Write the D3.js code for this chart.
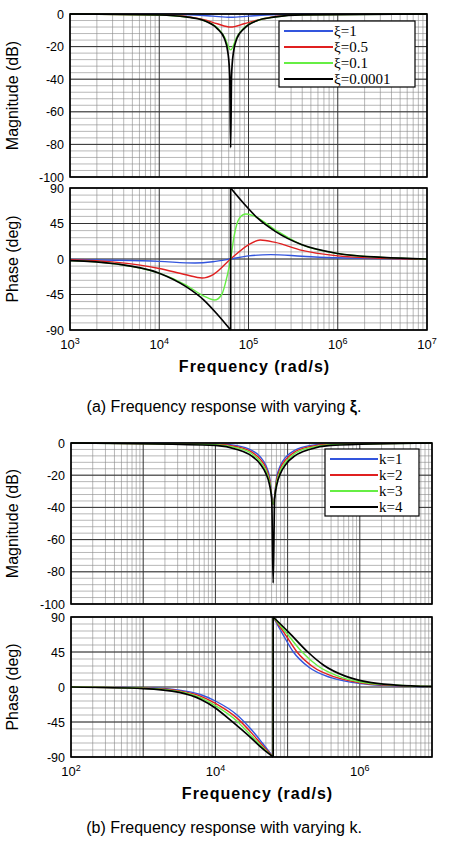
<!DOCTYPE html>
<html><head><meta charset="utf-8">
<script src="https://cdn.jsdelivr.net/npm/d3@7"></script>
<style>body{margin:0;background:#fff}</style>
</head><body><svg id="c" width="474" height="841"></svg>
<script>
// ---- data (log10 of rad/s, value) ----
var colors = ["#3355dd", "#e02020", "#66ee44", "#000000"];
var legendA = ["\u03be=1", "\u03be=0.5", "\u03be=0.1", "\u03be=0.0001"];
var legendB = ["k=1", "k=2", "k=3", "k=4"];
var magTicks = [0, -20, -40, -60, -80, -100];
var phaseTicks = [90, 45, 0, -45, -90];

var magA = [
  [[3,0],[4,-0.1],[4.4,-0.6],[4.6,-1.3],[4.8,-2],[5,-1.3],[5.2,-0.6],[5.6,-0.1],[7,0]],
  [[3,0],[4,-0.5],[4.3,-1.5],[4.5,-3.5],[4.65,-6],[4.8,-8],[4.95,-6],[5.1,-3.8],[5.3,-1.5],[5.6,-0.4],[7,0]],
  [[3,0],[4,-0.6],[4.3,-1.8],[4.5,-4],[4.65,-8.5],[4.73,-14],[4.8,-22],[4.87,-14],[4.95,-8.5],[5.1,-4],[5.3,-1.8],[5.6,-0.5],[7,0]],
  [[3,0],[4,-0.6],[4.3,-1.8],[4.5,-4],[4.65,-9],[4.73,-15],[4.77,-24],[4.79,-38],[4.8,-82],[4.81,-38],[4.83,-24],[4.87,-15],[4.95,-9],[5.1,-4],[5.3,-1.8],[5.6,-0.5],[7,0]]
];
var phaseA = [
  [[3,-0.5],[3.5,-1.5],[4,-3],[4.4,-5],[4.6,-3.5],[4.8,0],[5,4],[5.25,5.5],[5.6,3.5],[6,1.5],[7,0]],
  [[3,-1],[3.5,-4],[4,-12],[4.3,-20],[4.48,-24],[4.6,-20],[4.8,0],[5,18],[5.13,24],[5.3,21],[5.6,11],[6,4],[6.5,1],[7,0]],
  [[3,-2],[3.5,-6],[4,-18],[4.3,-33],[4.5,-47],[4.62,-52],[4.7,-45],[4.76,-22],[4.8,0],[4.84,30],[4.9,52],[4.97,57],[5.05,55],[5.3,37],[5.6,18],[6,7],[6.5,2],[7,0]],
  [[3,-2],[3.5,-6],[4,-18],[4.3,-35],[4.5,-52],[4.65,-70],[4.8,-90],[4.8,90],[4.95,70],[5.1,52],[5.3,35],[5.6,18],[6,7],[6.5,2],[7,0]]
];
var magB = [
  [[2,0],[4,-0.4],[4.3,-1.6],[4.5,-4.5],[4.62,-8.5],[4.7,-14],[4.75,-21],[4.8,-38],[4.85,-21],[4.9,-14],[4.98,-8.5],[5.1,-4.5],[5.3,-1.6],[5.6,-0.4],[7,0]],
  [[2,0],[4,-0.7],[4.3,-2.3],[4.5,-5.5],[4.62,-10],[4.7,-15.5],[4.75,-22.5],[4.8,-38],[4.85,-22.5],[4.9,-15.5],[4.98,-10],[5.1,-5.5],[5.3,-2.3],[5.6,-0.7],[7,0]],
  [[2,0],[4,-1],[4.3,-3],[4.5,-6.5],[4.62,-11.5],[4.7,-17],[4.75,-24],[4.8,-38],[4.85,-24],[4.9,-17],[4.98,-11.5],[5.1,-6.5],[5.3,-3],[5.6,-1],[7,0]],
  [[2,0],[4,-1.5],[4.3,-4],[4.5,-8],[4.62,-13],[4.7,-19],[4.75,-26],[4.78,-35],[4.8,-87],[4.82,-35],[4.85,-26],[4.9,-19],[4.98,-13],[5.1,-8],[5.3,-4],[5.6,-1.5],[7,0]]
];
var phaseB = [
  [[2,0],[3,-1],[3.5,-4],[3.8,-10],[4,-18],[4.3,-36],[4.5,-55],[4.65,-72],[4.8,-90],[4.8,90],[4.92,70],[5.08,45],[5.3,25],[5.6,12],[6,4.5],[6.5,1.5],[7,0.5]],
  [[2,0],[3,-1.3],[3.5,-5],[3.8,-12],[4,-21],[4.3,-40],[4.5,-59],[4.65,-75],[4.8,-90],[4.8,90],[4.95,70],[5.13,45],[5.35,26],[5.65,13],[6,5.5],[6.5,1.8],[7,0.5]],
  [[2,0],[3,-1.6],[3.5,-6],[3.8,-14],[4,-24],[4.3,-44],[4.5,-63],[4.65,-77],[4.8,-90],[4.8,90],[4.98,70],[5.2,45],[5.42,27],[5.7,14],[6,6.5],[6.5,2.2],[7,0.6]],
  [[2,0],[3,-2],[3.5,-7],[3.8,-16],[4,-27],[4.2,-42],[4.5,-66],[4.65,-79],[4.8,-90],[4.8,90],[5.02,70],[5.28,45],[5.5,28],[5.8,14],[6.1,6.5],[6.5,2.5],[7,0.7]]
];

var svg = d3.select("#c");
var tickFont = "Liberation Sans, Arial, sans-serif";

function grid(g, x, y, d0, d1, yMinStep, yMin, yMax) {
  var minors = [];
  for (var d = d0; d < d1; d++) for (var m = 2; m < 10; m++) minors.push(m * Math.pow(10, d));
  g.selectAll(".vm").data(minors).enter().append("line")
    .attr("x1", function (v) { return x(v); }).attr("x2", function (v) { return x(v); })
    .attr("y1", y.range()[0]).attr("y2", y.range()[1]).attr("stroke", "#888").attr("stroke-width", 0.6);
  var ys = d3.range(yMin, yMax + 0.01, yMinStep);
  g.selectAll(".hm").data(ys).enter().append("line")
    .attr("x1", x.range()[0]).attr("x2", x.range()[1])
    .attr("y1", function (v) { return y(v); }).attr("y2", function (v) { return y(v); })
    .attr("stroke", "#888").attr("stroke-width", 0.6);
}

function majors(g, x, y, decades, yt) {
  g.selectAll(".vM").data(decades).enter().append("line")
    .attr("x1", function (v) { return x(Math.pow(10, v)); }).attr("x2", function (v) { return x(Math.pow(10, v)); })
    .attr("y1", y.range()[0]).attr("y2", y.range()[1]).attr("stroke", "#333").attr("stroke-width", 1);
  g.selectAll(".hM").data(yt).enter().append("line")
    .attr("x1", x.range()[0]).attr("x2", x.range()[1])
    .attr("y1", function (v) { return y(v); }).attr("y2", function (v) { return y(v); })
    .attr("stroke", "#333").attr("stroke-width", 1);
}

function plot(g, x, y, series) {
  var line = d3.line().x(function (p) { return x(Math.pow(10, p[0])); }).y(function (p) { return y(p[1]); })
    .curve(d3.curveMonotoneX);
  series.forEach(function (s, i) {
    // split at phase jump
    var parts = [[]];
    s.forEach(function (p, j) {
      if (j > 0 && p[0] === s[j - 1][0]) { parts.push([]); }
      parts[parts.length - 1].push(p);
    });
    parts.forEach(function (pt) {
      g.append("path").attr("d", line(pt)).attr("fill", "none")
        .attr("stroke", colors[i]).attr("stroke-width", i === 3 ? 1.7 : 1.4);
    });
    // vertical jump
    if (parts.length > 1) {
      var a = parts[0][parts[0].length - 1];
      g.append("line").attr("x1", x(Math.pow(10, a[0]))).attr("x2", x(Math.pow(10, a[0])))
        .attr("y1", y(-90)).attr("y2", y(90)).attr("stroke", colors[i]).attr("stroke-width", i === 3 ? 1.7 : 1.4);
    }
  });
}

function frame(g, x, y) {
  g.append("rect").attr("x", x.range()[0]).attr("y", y.range()[1])
    .attr("width", x.range()[1] - x.range()[0]).attr("height", y.range()[0] - y.range()[1])
    .attr("fill", "none").attr("stroke", "#000").attr("stroke-width", 1.6);
}

function yLabels(g, x, y, ticks, label, cy) {
  g.selectAll(".yl").data(ticks).enter().append("text")
    .attr("x", x.range()[0] - 6).attr("y", function (v) { return y(v) + 4.5; })
    .attr("text-anchor", "end").attr("font-family", tickFont).attr("font-size", 12.5)
    .text(function (v) { return v; });
  g.append("text").attr("transform", "translate(18," + cy + ") rotate(-90)")
    .attr("text-anchor", "middle").attr("font-family", tickFont).attr("font-size", 16)
    .text(label);
}

function panel(o) {
  var g = svg.append("g");
  var x = d3.scaleLog().domain([Math.pow(10, o.d0), Math.pow(10, o.d1)]).range([o.x0, o.x1]);
  var ym = d3.scaleLinear().domain([-100, 0]).range([o.m1, o.m0]);
  var yp = d3.scaleLinear().domain([-90, 90]).range([o.p1, o.p0]);
  var decs = d3.range(o.d0, o.d1 + 1);
  grid(g, x, ym, o.d0, o.d1, 4, -100, 0);
  grid(g, x, yp, o.d0, o.d1, 9, -90, 90);
  majors(g, x, ym, decs, magTicks);
  majors(g, x, yp, decs, phaseTicks);
  var cm = g.append("g"), cp = g.append("g");
  plot(cm, x, ym, o.mag);
  plot(cp, x, yp, o.phase);
  frame(g, x, ym); frame(g, x, yp);
  yLabels(g, x, ym, magTicks, "Magnitude (dB)", (o.m0 + o.m1) / 2);
  yLabels(g, x, yp, phaseTicks, "Phase (deg)", (o.p0 + o.p1) / 2);
  // x tick labels 10^n
  var lt = g.selectAll(".xt").data(o.labels).enter().append("text")
    .attr("x", function (v) { return x(Math.pow(10, v)); }).attr("y", o.p1 + 19)
    .attr("text-anchor", "middle").attr("font-family", tickFont).attr("font-size", 13);
  lt.append("tspan").text("10");
  lt.append("tspan").attr("dy", -5).attr("font-size", 9).text(function (v) { return v; });
  g.append("text").attr("x", (o.x0 + o.x1) / 2 + 6).attr("y", o.p1 + 42)
    .attr("text-anchor", "middle").attr("font-family", tickFont).attr("font-size", 16).attr("font-weight", "bold")
    .attr("letter-spacing", 1).text("Frequency (rad/s)");
  // legend
  var L = o.legend;
  var lg = g.append("g");
  lg.append("rect").attr("x", L.x).attr("y", L.y).attr("width", L.w).attr("height", L.h)
    .attr("fill", "#fff").attr("stroke", "#000").attr("stroke-width", 1.2);
  L.names.forEach(function (n, i) {
    var yy = L.y + 10 + i * 16;
    lg.append("line").attr("x1", L.x + 5).attr("x2", L.x + L.lw).attr("y1", yy).attr("y2", yy)
      .attr("stroke", colors[i]).attr("stroke-width", 2);
    lg.append("text").attr("x", L.x + L.lw + 1).attr("y", yy + 5)
      .attr("font-family", "Liberation Serif, serif").attr("font-size", 15).text(n);
  });
  var cap = g.append("text").attr("x", 224).attr("y", o.cap)
    .attr("text-anchor", "middle").attr("font-family", tickFont).attr("font-size", 16);
  cap.append("tspan").text(o.caption[0]);
  cap.append("tspan").attr("font-weight", "bold").text(o.caption[1]);
  cap.append("tspan").text(o.caption[2]);
}

panel({ d0: 3, d1: 7, x0: 70, x1: 427, m0: 14, m1: 177, p0: 188, p1: 330,
  mag: magA, phase: phaseA, labels: [3, 4, 5, 6, 7],
  legend: { x: 279, y: 21, w: 136, h: 66, lw: 54, names: legendA },
  caption: ["(a) Frequency response with varying ", "\u03be", "."], cap: 412 });
panel({ d0: 2, d1: 7, x0: 71, x1: 432, m0: 443, m1: 604, p0: 617, p1: 757,
  mag: magB, phase: phaseB, labels: [2, 4, 6],
  legend: { x: 325, y: 449, w: 94, h: 67, lw: 53, names: legendB },
  caption: ["(b) Frequency response with varying k.", "", ""], cap: 833 });
</script></body></html>
